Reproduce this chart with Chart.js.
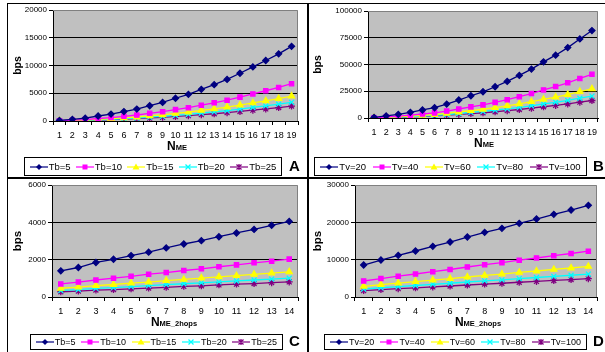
<!DOCTYPE html>
<html lang="en">
<head>
<meta charset="UTF-8">
<title>bps vs NME</title>
<script src="https://cdn.jsdelivr.net/npm/chart.js"></script>
<style>
  body { margin: 0; width: 605px; height: 352px; background: #fff; position: relative; overflow: hidden; font-family: "Liberation Sans", Arial, sans-serif; }
  canvas { position: absolute; }
  .frame { position: absolute; background: #000; z-index: 5; }
  .xt { position: absolute; font-weight: bold; font-size: 12px; transform: translateX(-50%); white-space: nowrap; line-height: 12px; }
  .xt span { font-size: 7.5px; }
  .legend { position: absolute; border: 1px solid #000; display: flex; align-items: center; justify-content: space-around; font-size: 9.5px; box-sizing: border-box; padding: 0 2px; background: #fff; }
  .item { display: flex; align-items: center; white-space: nowrap; }
  .item svg { margin-right: 1px; }
  .tag { position: absolute; font-weight: bold; font-size: 15px; line-height: 15px; }
</style>
</head>
<body>

<canvas id="chartA" width="305" height="145" style="left:0;top:0"></canvas>
<canvas id="chartB" width="305" height="145" style="left:300px;top:0"></canvas>
<canvas id="chartC" width="305" height="145" style="left:0;top:176px"></canvas>
<canvas id="chartD" width="305" height="145" style="left:300px;top:176px"></canvas>

<div class="frame" style="left:7px;top:3px;width:598px;height:1px"></div>
<div class="frame" style="left:7px;top:3px;width:1px;height:349px"></div>
<div class="frame" style="left:307px;top:3px;width:2px;height:349px"></div>
<div class="frame" style="left:7px;top:177px;width:598px;height:2px"></div>

<div class="xt" style="left:177px;top:140px">N<span>ME</span></div>
<div class="xt" style="left:484px;top:137px">N<span>ME</span></div>
<div class="xt" style="left:174px;top:316px">N<span>ME_2hops</span></div>
<div class="xt" style="left:478px;top:316px">N<span>ME_2hops</span></div>

<div class="legend" id="legA" style="left:24px;top:157px;width:258px;height:19px"></div>
<div class="legend" id="legB" style="left:314px;top:157px;width:273px;height:19px"></div>
<div class="legend" id="legC" style="left:30px;top:334px;width:253px;height:16px"></div>
<div class="legend" id="legD" style="left:324px;top:334px;width:263px;height:16px"></div>

<div class="tag" style="left:289px;top:158px">A</div>
<div class="tag" style="left:593px;top:158px">B</div>
<div class="tag" style="left:289px;top:333px">C</div>
<div class="tag" style="left:593px;top:333px">D</div>

<script>
// x categories
const nme = ['1','2','3','4','5','6','7','8','9','10','11','12','13','14','15','16','17','18','19'];
const nme2hops = ['1','2','3','4','5','6','7','8','9','10','11','12','13','14'];

const tbNames = ['Tb=5', 'Tb=10', 'Tb=15', 'Tb=20', 'Tb=25'];
const tvNames = ['Tv=20', 'Tv=40', 'Tv=60', 'Tv=80', 'Tv=100'];

// panel A (bps vs NME, Tb)
const aTb5  = [100, 300, 500, 900, 1250, 1700, 2150, 2750, 3350, 4100, 4800, 5700, 6550, 7500, 8600, 9750, 10900, 12100, 13450];
const aTb10 = [50, 150, 250, 450, 620, 850, 1080, 1380, 1680, 2050, 2400, 2850, 3280, 3750, 4300, 4880, 5450, 6050, 6720];
const aTb15 = [35, 100, 170, 300, 420, 570, 720, 920, 1120, 1370, 1600, 1900, 2180, 2500, 2870, 3250, 3630, 4030, 4480];
const aTb20 = [25, 75, 125, 225, 310, 425, 540, 690, 840, 1030, 1200, 1430, 1640, 1880, 2150, 2440, 2720, 3030, 3360];
const aTb25 = [20, 60, 100, 180, 250, 340, 430, 550, 670, 820, 960, 1140, 1310, 1500, 1720, 1950, 2180, 2420, 2690];

// panel B (bps vs NME, Tv)
const bTv20  = [600, 1900, 3400, 5300, 7500, 9600, 13000, 16800, 20800, 24500, 29200, 34200, 39800, 45700, 52500, 58700, 65800, 73900, 81700];
const bTv40  = [300, 950, 1700, 2650, 3750, 4800, 6500, 8400, 10400, 12250, 14600, 17100, 19900, 22850, 26250, 29350, 32900, 36950, 40850];
const bTv60  = [200, 630, 1130, 1770, 2500, 3200, 4330, 5600, 6930, 8170, 9730, 11400, 13270, 15230, 17500, 19570, 21930, 24630, 27230];
const bTv80  = [150, 480, 850, 1330, 1880, 2400, 3250, 4200, 5200, 6130, 7300, 8550, 9950, 11430, 13130, 14680, 16450, 18480, 20430];
const bTv100 = [120, 380, 680, 1060, 1500, 1920, 2600, 3360, 4160, 4900, 5840, 6840, 7960, 9140, 10500, 11740, 13160, 14780, 16340];

// panel C (bps vs NME_2hops, Tb)
const cTb5  = [1400, 1580, 1850, 2020, 2220, 2400, 2630, 2840, 3020, 3230, 3430, 3620, 3840, 4050];
const cTb10 = [700, 800, 910, 1010, 1110, 1220, 1310, 1420, 1510, 1620, 1720, 1830, 1920, 2030];
const cTb15 = [470, 530, 610, 670, 740, 800, 880, 940, 1010, 1080, 1140, 1210, 1280, 1350];
const cTb20 = [350, 400, 460, 500, 560, 610, 660, 710, 760, 810, 860, 910, 960, 1010];
const cTb25 = [280, 320, 370, 400, 440, 480, 520, 570, 600, 650, 690, 720, 770, 810];

// panel D (bps vs NME_2hops, Tv)
const dTv20  = [8570, 9910, 11160, 12320, 13570, 14730, 16070, 17320, 18390, 19730, 20890, 22140, 23300, 24550];
const dTv40  = [4290, 4950, 5580, 6160, 6790, 7370, 8040, 8660, 9200, 9870, 10450, 11070, 11650, 12280];
const dTv60  = [2860, 3300, 3720, 4110, 4520, 4910, 5360, 5770, 6130, 6580, 6960, 7380, 7770, 8180];
const dTv80  = [2140, 2480, 2790, 3080, 3390, 3680, 4020, 4330, 4600, 4930, 5220, 5540, 5830, 6140];
const dTv100 = [1710, 1980, 2230, 2460, 2710, 2950, 3210, 3460, 3680, 3950, 4180, 4430, 4660, 4910];

const colors = ['#000080', '#FF00FF', '#FFFF00', '#00FFFF', '#800080'];
const shapes = ['rectRot', 'rect', 'triangle', 'crossRot', 'star'];
const radii  = [3, 3, 3.5, 3.5, 3.5];

const FONT = '"Liberation Sans", Arial, sans-serif';

// gray plot area with a gray frame on top/right, like excel
const plotArea = {
  id: 'plotArea',
  beforeDraw(chart) {
    const {ctx, chartArea: a} = chart;
    ctx.save();
    ctx.fillStyle = '#c0c0c0';
    ctx.fillRect(a.left, a.top, a.right - a.left, a.bottom - a.top);
    ctx.restore();
  },
  beforeDatasetsDraw(chart) {
    const {ctx, chartArea: a} = chart;
    ctx.save();
    ctx.strokeStyle = '#808080';
    ctx.lineWidth = 1;
    ctx.beginPath();
    ctx.moveTo(a.left, a.top + 0.5);
    ctx.lineTo(a.right - 0.5, a.top + 0.5);
    ctx.lineTo(a.right - 0.5, a.bottom);
    ctx.stroke();
    ctx.restore();
  }
};

function makeChart(id, labels, names, series, yMax, yStep, g) {
  const datasets = series.map((d, i) => ({
    label: names[i],
    data: d,
    borderColor: colors[i],
    backgroundColor: colors[i],
    borderWidth: 1.3,
    pointStyle: shapes[i],
    pointRadius: radii[i],
    pointBorderWidth: 1.3,
    pointBackgroundColor: colors[i],
    pointBorderColor: colors[i],
    tension: 0
  }));

  return new Chart(document.getElementById(id), {
    type: 'line',
    data: { labels: labels, datasets: datasets },
    options: {
      responsive: false,
      animation: false,
      devicePixelRatio: 1,
      layout: { padding: { top: g.top, right: g.right, left: 0, bottom: 0 } },
      plugins: { legend: { display: false }, tooltip: { enabled: false } },
      scales: {
        x: {
          offset: true,
          grid: { offset: true, drawOnChartArea: false, drawTicks: true, tickLength: 4, color: '#000', lineWidth: 1 },
          border: { color: '#000', width: 1 },
          ticks: { autoSkip: false, maxRotation: 0, padding: 5, color: '#000', font: { family: FONT, size: 9 } },
          afterFit(s) { s.height = g.xh; }
        },
        y: {
          min: 0,
          max: yMax,
          ticks: { stepSize: yStep, padding: 2, color: '#000', font: { family: FONT, size: 8 },
                   callback: v => String(v) },
          grid: { color: c => (c.tick && c.tick.value === yMax) ? 'rgba(0,0,0,0)' : '#000',
                  tickColor: '#000', tickLength: 4, lineWidth: 1 },
          border: { color: '#000', width: 1 },
          title: { display: true, text: 'bps', color: '#000', padding: { top: g.tp, bottom: 0 },
                   font: { family: FONT, size: g.ts, weight: 'bold' } },
          afterFit(s) { s.width = g.yw; }
        }
      }
    },
    plugins: [plotArea]
  });
}

makeChart('chartA', nme, tbNames, [aTb5, aTb10, aTb15, aTb20, aTb25], 20000, 5000,
  { top: 10, right: 7, yw: 53, xh: 24, tp: 12, ts: 10.5 });
makeChart('chartB', nme, tvNames, [bTv20, bTv40, bTv60, bTv80, bTv100], 100000, 25000,
  { top: 11, right: 7, yw: 68, xh: 27, tp: 12, ts: 10.5 });
makeChart('chartC', nme2hops, tbNames, [cTb5, cTb10, cTb15, cTb20, cTb25], 6000, 2000,
  { top: 9, right: 7, yw: 52, xh: 24, tp: 11, ts: 11.5 });
makeChart('chartD', nme2hops, tvNames, [dTv20, dTv40, dTv60, dTv80, dTv100], 30000, 10000,
  { top: 9, right: 8, yw: 55, xh: 24, tp: 11, ts: 11.5 });

// html legends (line + marker sample, like excel)
function markerSvg(i) {
  const c = colors[i];
  let m = '';
  if (shapes[i] === 'rectRot') m = `<polygon points="9,3 12,6 9,9 6,6" fill="${c}"/>`;
  if (shapes[i] === 'rect') m = `<rect x="6.5" y="3.5" width="5" height="5" fill="${c}"/>`;
  if (shapes[i] === 'triangle') m = `<polygon points="9,2.5 12.5,8.5 5.5,8.5" fill="${c}"/>`;
  if (shapes[i] === 'crossRot') m = `<path d="M6.5,3.5 L11.5,8.5 M11.5,3.5 L6.5,8.5" stroke="${c}" stroke-width="1.3"/>`;
  if (shapes[i] === 'star') m = `<path d="M6.5,3.5 L11.5,8.5 M11.5,3.5 L6.5,8.5 M9,3 L9,9" stroke="${c}" stroke-width="1.3"/>`;
  return `<svg width="18" height="12"><line x1="0" y1="6" x2="18" y2="6" stroke="${c}" stroke-width="1.2"/>${m}</svg>`;
}
function fillLegend(id, names, size) {
  const el = document.getElementById(id);
  el.style.fontSize = size + 'px';
  el.innerHTML = names.map((n, i) => `<div class="item">${markerSvg(i)}<span>${n}</span></div>`).join('');
}
fillLegend('legA', tbNames, 9.5);
fillLegend('legB', tvNames, 9.5);
fillLegend('legC', tbNames, 9);
fillLegend('legD', tvNames, 9);
</script>
</body>
</html>
